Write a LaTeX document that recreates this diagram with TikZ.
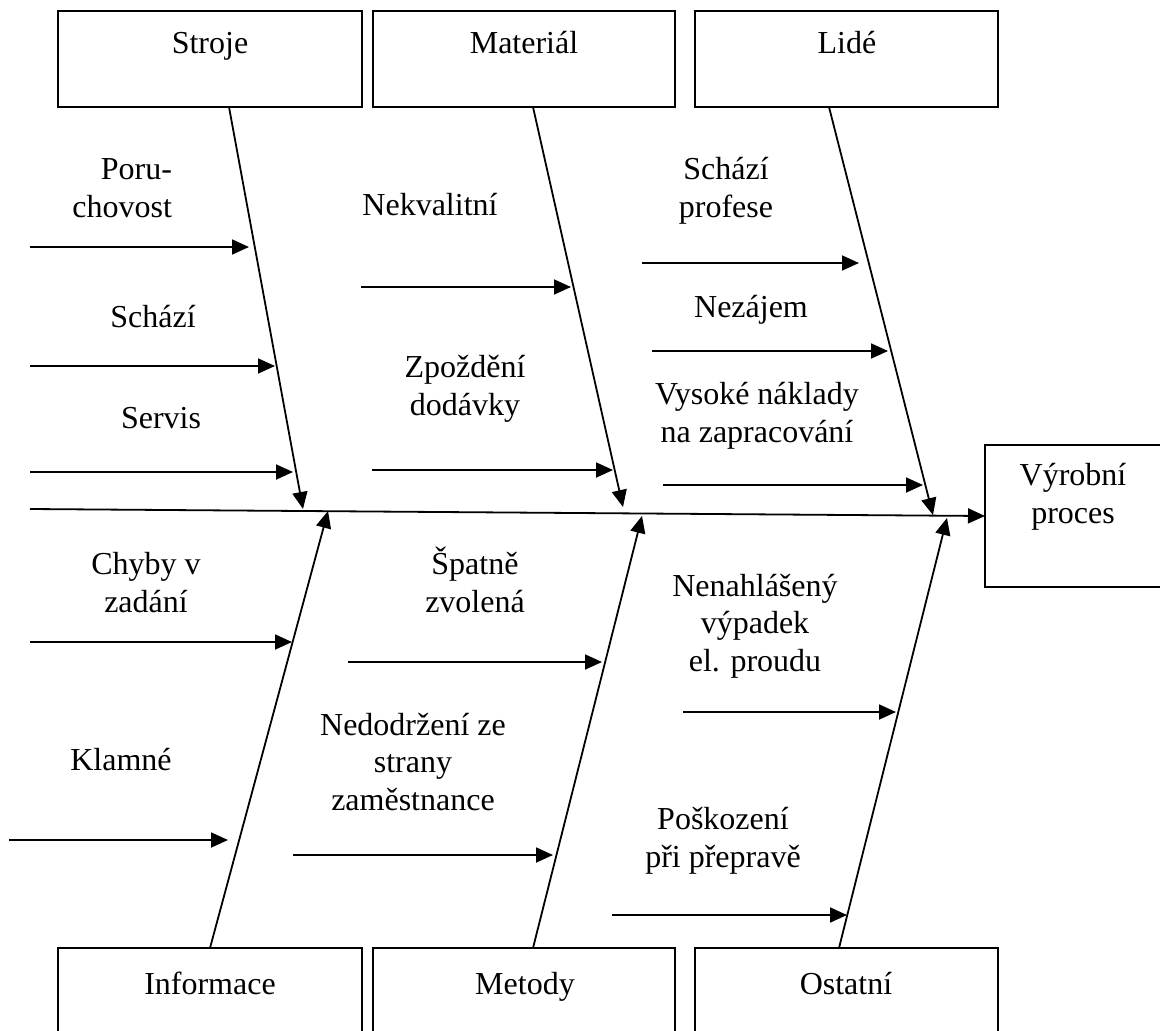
\documentclass[tikz,border=0pt]{standalone}
\usepackage{fontspec}
\setmainfont{Liberation Serif}
\usetikzlibrary{arrows.meta}
\begin{document}
\begin{tikzpicture}[x=1pt,y=-1pt,
  every node/.style={inner sep=0pt, outer sep=0pt},
  catbox/.style={draw, line width=2pt, minimum height=96pt},
  lbl/.style={font=\fontsize{32}{37.5}\selectfont, align=center, anchor=base},
  conn/.style={line width=1.8pt, -{Triangle[length=17pt,width=15pt]}}]
\useasboundingbox (0,0) rectangle (1160,1031);
\clip (0,0) rectangle (1160,1031);

% category boxes
\node[catbox, minimum width=304pt] (stroje)    at (210,59)    {};
\node[catbox, minimum width=302pt] (material)  at (524,59)    {};
\node[catbox, minimum width=303pt] (lide)      at (846.5,59)  {};
\node[catbox, minimum width=304pt] (informace) at (210,996)   {};
\node[catbox, minimum width=302pt] (metody)    at (524,996)   {};
\node[catbox, minimum width=303pt] (ostatni)   at (846.5,996) {};
\node[catbox, minimum width=200pt, minimum height=142pt] (vp) at (1085,516) {};

% box titles (base = baseline of the last line)
\node[lbl] (tStroje)    at (210,53)  {Stroje};
\node[lbl] (tMaterial)  at (524,53)  {Materiál};
\node[lbl] (tLide)      at (847,53)  {Lidé};
\node[lbl] (tInformace) at (210,994) {Informace};
\node[lbl] (tMetody)    at (525,994) {Metody};
\node[lbl] (tOstatni)   at (846,994) {Ostatní};
\node[lbl] (tVp)        at (1073,523) {Výrobní\\proces};

% spine
\coordinate (sp0) at (30,509);
\draw[conn] (sp0) -- (vp.west);

% main bones
\coordinate (bS0) at (229,107);  \coordinate (bS1) at (303,509);
\coordinate (bM0) at (533,107);  \coordinate (bM1) at (623,507);
\coordinate (bL0) at (829,107);  \coordinate (bL1) at (933,515);
\coordinate (bI0) at (210,948);  \coordinate (bI1) at (328,511);
\coordinate (bE0) at (533,948);  \coordinate (bE1) at (642,516);
\coordinate (bO0) at (839,948);  \coordinate (bO1) at (947,518);
\draw[conn] (bS0) -- (bS1);
\draw[conn] (bM0) -- (bM1);
\draw[conn] (bL0) -- (bL1);
\draw[conn] (bI0) -- (bI1);
\draw[conn] (bE0) -- (bE1);
\draw[conn] (bO0) -- (bO1);

% causes: Stroje
\node[lbl, align=right, anchor=base east] (cPor) at (172,217) {Poru-\\chovost};
\coordinate (a1) at (30,247);  \coordinate (e1) at (249,247);
\draw[conn] (a1) -- (e1);
\node[lbl] (cSch) at (153,327) {Schází};
\coordinate (a2) at (30,366);  \coordinate (e2) at (275,366);
\draw[conn] (a2) -- (e2);
\node[lbl] (cSer) at (161,428) {Servis};
\coordinate (a3) at (30,472);  \coordinate (e3) at (293,472);
\draw[conn] (a3) -- (e3);

% causes: Material
\node[lbl] (cNek) at (430,215) {Nekvalitní};
\coordinate (a4) at (361,287); \coordinate (e4) at (571,287);
\draw[conn] (a4) -- (e4);
\node[lbl] (cZpo) at (465,415) {Zpoždění\\dodávky};
\coordinate (a5) at (372,470); \coordinate (e5) at (613,470);
\draw[conn] (a5) -- (e5);

% causes: Lide
\node[lbl] (cPro) at (726,217) {Schází\\profese};
\coordinate (a6) at (642,263); \coordinate (e6) at (859,263);
\draw[conn] (a6) -- (e6);
\node[lbl] (cNez) at (751,317) {Nezájem};
\coordinate (a7) at (652,351); \coordinate (e7) at (888,351);
\draw[conn] (a7) -- (e7);
\node[lbl] (cVys) at (757,442) {Vysoké náklady\\na zapracování};
\coordinate (a8) at (663,485); \coordinate (e8) at (923,485);
\draw[conn] (a8) -- (e8);

% causes: Informace
\node[lbl] (cChy) at (146,612) {Chyby v\\zadání};
\coordinate (a9) at (30,642);  \coordinate (e9) at (292,642);
\draw[conn] (a9) -- (e9);
\node[lbl] (cKla) at (121,770) {Klamné};
\coordinate (a10) at (9,840);  \coordinate (e10) at (228,840);
\draw[conn] (a10) -- (e10);

% causes: Metody
\node[lbl] (cSpa) at (475,612) {Špatně\\zvolená};
\coordinate (a11) at (348,662); \coordinate (e11) at (602,662);
\draw[conn] (a11) -- (e11);
\node[lbl] (cNed) at (413,810) {Nedodržení ze\\strany\\zaměstnance};
\coordinate (a12) at (293,855); \coordinate (e12) at (553,855);
\draw[conn] (a12) -- (e12);

% causes: Ostatni
\node[lbl] (cNen) at (755,671) {Nenahlášený\\výpadek\\el. proudu};
\coordinate (a13) at (683,712); \coordinate (e13) at (896,712);
\draw[conn] (a13) -- (e13);
\node[lbl] (cPos) at (723,867) {Poškození\\při přepravě};
\coordinate (a14) at (612,915); \coordinate (e14) at (847,915);
\draw[conn] (a14) -- (e14);
\end{tikzpicture}
\end{document}
